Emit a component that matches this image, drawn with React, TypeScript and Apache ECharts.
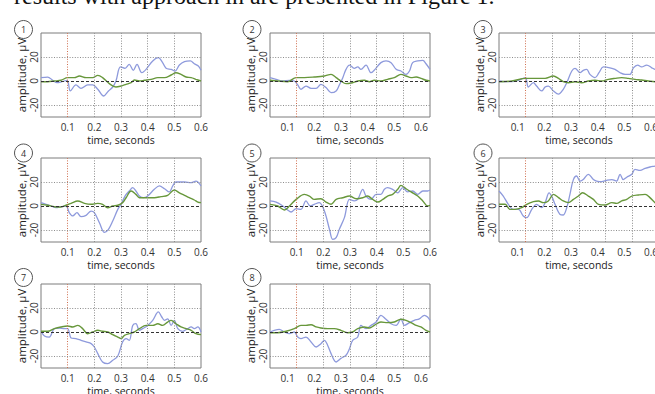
import React, { useEffect, useRef } from 'react';
import * as echarts from 'echarts';

// ---------- data ----------
const panelIds = ['1', '2', '3', '4', '5', '6', '7', '8'];
const xTickLabels = [0.1, 0.2, 0.3, 0.4, 0.5, 0.6];
const yTickLabels = [-20, 0, 20];
const verticalGrid = [0.2, 0.3, 0.4, 0.5];
const stimulusTime = 0.1;
const horizontalGrid = [-20, 20];
const zeroLevel = 0;
// offset of the printed time labels relative to the plotted trace time
const labelShift = [0, 0.034, 0.03, 0, 0, 0.03, 0, 0.034];

const blue1 = [[0, 2.8], [0.025, 3.3], [0.044, 0.6], [0.06, -1.4], [0.078, -0.6], [0.098, 0.6], [0.11, -8.3], [0.131, -3.3], [0.15, -6.1], [0.175, -3.3], [0.194, -3.3], [0.213, -6.9], [0.235, -12.5], [0.253, -8.3], [0.269, -5], [0.281, 0], [0.298, 11.7], [0.315, 10.6], [0.331, 13.9], [0.346, 8.9], [0.36, 13.9], [0.378, 6.9], [0.394, 9.7], [0.419, 16.7], [0.44, 19.4], [0.456, 15.3], [0.469, 10.6], [0.488, 9.7], [0.503, 8.3], [0.519, 13.3], [0.538, 16.1], [0.56, 16.7], [0.575, 14.4], [0.59, 12.5], [0.6, 8.9]];
const green1 = [[0, -0.6], [0.025, -0.6], [0.05, 0], [0.075, 0.6], [0.1, 2.8], [0.125, 2.8], [0.144, 4.2], [0.169, 2.8], [0.194, 2.8], [0.213, 4.7], [0.231, 2.8], [0.256, -2.2], [0.281, -5], [0.3, -4.2], [0.319, -2.8], [0.338, -1.4], [0.35, 0.8], [0.369, 0], [0.388, 0.6], [0.413, 1.4], [0.438, 2.8], [0.463, 2.8], [0.488, 5], [0.506, 6.9], [0.525, 5.5], [0.544, 3.3], [0.563, 2.8], [0.581, 1.4], [0.6, 0]];

const blue2 = [[0, 2.8], [0.023, 1.4], [0.048, 0], [0.073, 0.6], [0.091, 0], [0.104, -3.3], [0.116, -6.9], [0.135, -4.2], [0.154, -6.1], [0.173, -6.1], [0.191, -2.8], [0.21, -5.5], [0.229, -9.7], [0.248, -8.3], [0.26, -3.3], [0.273, 2.8], [0.285, 9.7], [0.298, 13.3], [0.316, 10.6], [0.329, 11.7], [0.341, 9.7], [0.36, 13.3], [0.379, 6.9], [0.394, 9.7], [0.416, 15.3], [0.435, 16.7], [0.454, 15.3], [0.473, 9.7], [0.491, 8.3], [0.51, 5.5], [0.523, 8.3], [0.535, 15.3], [0.554, 16.7], [0.573, 17.2], [0.585, 14.4], [0.6, 9.7]];
const green2 = [[0, 0.6], [0.029, 0], [0.066, -0.6], [0.098, 2.8], [0.129, 2.8], [0.166, 3.3], [0.204, 4.2], [0.229, 5.5], [0.248, 2.8], [0.266, 0], [0.285, -2.2], [0.304, -1.7], [0.329, 0], [0.354, 0.6], [0.373, -0.6], [0.391, 0.6], [0.416, 0], [0.441, 1.4], [0.466, 2.8], [0.491, 5.5], [0.51, 4.2], [0.529, 2.8], [0.548, 3.3], [0.566, 2.2], [0.585, 0.6], [0.6, 0]];

const blue3 = [[0, 0], [0.023, -0.6], [0.048, -0.6], [0.073, 0.6], [0.091, 2.2], [0.1, 2.8], [0.11, -5], [0.129, -1.4], [0.141, -4.2], [0.16, -8.3], [0.173, -5], [0.185, -4.2], [0.204, -8.3], [0.223, -11], [0.241, -6.9], [0.254, -1.4], [0.273, 8.3], [0.285, 10.6], [0.304, 6.9], [0.316, 8.9], [0.329, 9.7], [0.341, 5.5], [0.36, 2.8], [0.375, 6.9], [0.391, 11.7], [0.416, 11], [0.435, 9.7], [0.454, 6.9], [0.473, 5.5], [0.491, 5.5], [0.504, 11], [0.52, 13.3], [0.535, 11.7], [0.554, 13.3], [0.573, 11], [0.585, 9.7], [0.6, 9]];
const green3 = [[0, -0.6], [0.048, 0], [0.1, 2.2], [0.135, 2.2], [0.173, 2.2], [0.204, 4.2], [0.223, 2.2], [0.241, -0.6], [0.26, -1.4], [0.285, -0.6], [0.31, -1.4], [0.335, 0], [0.36, 0.6], [0.385, 0], [0.41, 1.4], [0.435, 2.2], [0.46, 2.8], [0.485, 2.2], [0.51, 1.4], [0.535, 0.8], [0.56, 0], [0.585, -0.6], [0.6, -0.6]];

const blue4 = [[0, 2.8], [0.019, 1.4], [0.038, 0], [0.056, -1.4], [0.075, -0.6], [0.094, 0], [0.106, -5.5], [0.119, -8.3], [0.135, -5.5], [0.15, -8.9], [0.169, -7.8], [0.188, -4.2], [0.2, -5.5], [0.219, -13.9], [0.238, -22], [0.253, -19.4], [0.269, -12.5], [0.288, -2.8], [0.3, 1.4], [0.315, 8.3], [0.331, 12.5], [0.344, 15.3], [0.356, 12.5], [0.369, 8.3], [0.385, 6.9], [0.4, 8.3], [0.425, 13.9], [0.444, 16.7], [0.463, 14.4], [0.481, 11.7], [0.494, 16.7], [0.506, 20], [0.538, 20], [0.563, 19.4], [0.581, 20.8], [0.6, 16.7]];
const green4 = [[0, 1.4], [0.025, 0.6], [0.05, -0.6], [0.075, -0.8], [0.094, 0.6], [0.113, 2.2], [0.138, 4.2], [0.163, 2.2], [0.188, 1.4], [0.213, 2.2], [0.231, 1.4], [0.25, -1.4], [0.269, 0], [0.288, 0.6], [0.306, 2.8], [0.319, 6.9], [0.338, 12.5], [0.356, 9.7], [0.369, 6.9], [0.388, 6.9], [0.406, 6.9], [0.425, 6.9], [0.45, 7.8], [0.475, 8.9], [0.5, 13.3], [0.519, 11], [0.538, 8.9], [0.556, 6.9], [0.575, 5], [0.588, 3.3], [0.6, 2.8]];

const blue5 = [[0, 4.2], [0.023, 3.3], [0.048, 0], [0.066, -3.3], [0.079, -5], [0.098, -2.2], [0.116, -2.8], [0.135, 4.2], [0.151, 0], [0.166, 1.4], [0.185, 2.8], [0.204, -4.2], [0.223, -19.4], [0.235, -27.8], [0.248, -26.4], [0.26, -19.4], [0.279, -9.7], [0.298, 5.5], [0.316, 4.2], [0.329, 5.5], [0.348, 13.9], [0.36, 8.3], [0.379, 5.5], [0.398, 9.7], [0.416, 9.7], [0.429, 13.9], [0.441, 15.3], [0.46, 13.9], [0.479, 11], [0.498, 15.3], [0.516, 11.7], [0.535, 12.5], [0.554, 9.7], [0.573, 12.5], [0.591, 12.5], [0.6, 13.3]];
const green5 = [[0, 1.4], [0.029, 0], [0.054, -3.3], [0.073, 0], [0.098, 5.5], [0.129, 9.7], [0.148, 8.3], [0.166, 5.5], [0.191, 6.1], [0.21, 3.3], [0.229, 1.4], [0.248, 5.5], [0.273, 6.9], [0.298, 8.3], [0.323, 6.1], [0.348, 6.9], [0.366, 8.3], [0.385, 5.5], [0.404, 3.3], [0.423, 5.5], [0.441, 8.3], [0.46, 9.7], [0.479, 13.9], [0.491, 17.2], [0.51, 14.4], [0.529, 11.7], [0.554, 8.3], [0.573, 4.2], [0.591, 0], [0.6, 0.6]];

const blue6 = [[0, 12.5], [0.016, 8.3], [0.035, 1.4], [0.054, -2.8], [0.073, -2.8], [0.091, -8.3], [0.104, -9.7], [0.123, -2.8], [0.141, 1.4], [0.16, -1.4], [0.173, 2.8], [0.188, 11], [0.2, 7], [0.21, 1.4], [0.229, -7], [0.241, -7.5], [0.254, -1.4], [0.266, 9.7], [0.279, 22], [0.291, 25], [0.304, 20.8], [0.316, 22], [0.335, 26.4], [0.354, 22], [0.366, 20.8], [0.385, 20.3], [0.404, 21.4], [0.423, 22], [0.441, 20.8], [0.454, 26.4], [0.466, 22], [0.479, 24], [0.498, 26.4], [0.51, 30.6], [0.529, 29.7], [0.548, 31.4], [0.566, 32.5], [0.585, 33.3], [0.6, 34]];
const green6 = [[0, 1.4], [0.023, 1.4], [0.041, -2.8], [0.06, -2.8], [0.085, -1.4], [0.104, 1.4], [0.129, 3.6], [0.148, 4.2], [0.166, 2.8], [0.185, 4.2], [0.204, 9.7], [0.223, 7], [0.241, 4.2], [0.26, 2.8], [0.279, 5.5], [0.298, 8.3], [0.313, 11], [0.335, 8.3], [0.354, 5.5], [0.373, 1.4], [0.398, 0.8], [0.423, 2.8], [0.441, 2.2], [0.46, 4.2], [0.479, 5.5], [0.498, 8.3], [0.523, 9.2], [0.548, 9.7], [0.566, 7], [0.585, 2.8], [0.6, 1]];

const blue7 = [[0, 0.6], [0.013, -3.3], [0.031, -4.2], [0.05, 2.8], [0.069, 3.3], [0.088, 2.8], [0.1, 2.8], [0.113, -5], [0.131, -5.5], [0.15, -6.9], [0.169, -8.3], [0.188, -9.7], [0.2, -12.5], [0.213, -18], [0.231, -25], [0.25, -26.4], [0.269, -23.6], [0.288, -20], [0.306, -8.3], [0.319, -5.5], [0.331, -7], [0.344, 5.5], [0.356, 7], [0.369, 1.4], [0.381, 2.8], [0.4, 5.5], [0.419, 9.7], [0.44, 16.7], [0.453, 12.5], [0.463, 9.7], [0.475, 11], [0.488, 5.5], [0.5, 9.7], [0.513, 2.8], [0.531, 0.6], [0.55, 2.8], [0.563, 4.2], [0.575, 2.8], [0.588, 4.2], [0.6, 0]];
const green7 = [[0, 0.6], [0.025, 0.6], [0.05, 2.8], [0.075, 4.2], [0.1, 5], [0.119, 4.2], [0.138, 5.5], [0.156, 2.8], [0.175, -1.4], [0.194, 0], [0.213, 1.4], [0.231, 0.6], [0.25, 0], [0.269, -2.2], [0.288, -4.2], [0.3, -5.5], [0.313, -2.8], [0.331, -1.4], [0.35, 0], [0.369, 2.8], [0.394, 5.5], [0.419, 5.5], [0.438, 6.9], [0.456, 5.5], [0.475, 8.3], [0.488, 9.7], [0.506, 6.9], [0.525, 4.2], [0.544, 2.8], [0.563, 1.4], [0.581, -1.4], [0.6, -2.2]];

const blue8 = [[0, 0], [0.016, 1.4], [0.035, 2.2], [0.054, 0], [0.073, -1.4], [0.091, 0], [0.104, -4.2], [0.116, -5.5], [0.135, -4.2], [0.154, -8.3], [0.173, -12.5], [0.191, -9.7], [0.204, -6.9], [0.216, -11], [0.229, -18], [0.248, -25], [0.266, -22], [0.285, -19.4], [0.298, -13.9], [0.31, -6.9], [0.329, -4.2], [0.341, 5.5], [0.36, 2.8], [0.379, 5.5], [0.398, 8.3], [0.416, 13.9], [0.435, 10.6], [0.454, 6.9], [0.473, 5.5], [0.491, 11], [0.504, 5.5], [0.523, 7.8], [0.541, 9.7], [0.56, 11], [0.579, 13.9], [0.591, 12.5], [0.6, 9.7]];
const green8 = [[0, -0.6], [0.029, -0.6], [0.06, 0.6], [0.091, 2.8], [0.116, 5.5], [0.135, 5.5], [0.154, 6.1], [0.173, 4.2], [0.191, 3.3], [0.216, 2.8], [0.241, 2.8], [0.266, 1.4], [0.291, -0.6], [0.31, 0], [0.329, 2.8], [0.354, 4.2], [0.373, 3.3], [0.391, 5.5], [0.416, 8.3], [0.441, 7.8], [0.466, 8.3], [0.491, 10.6], [0.51, 9.7], [0.529, 7.8], [0.548, 5.5], [0.566, 4.2], [0.585, 1.4], [0.6, 0]];

const blueSeries = [blue1, blue2, blue3, blue4, blue5, blue6, blue7, blue8];
const greenSeries = [green1, green2, green3, green4, green5, green6, green7, green8];

// ---------- layout / style ----------
const colLeft = [41, 270, 499];
const rowTop = [33, 158, 284];
const boxW = 160;
const boxH = 84;
const circleX = [23.5, 252, 483];
const circleY = [29.5, 153, 277.5];
const FONT = '"Open Sans", "Noto Sans", sans-serif';
const BLUE = '#8e9adc';
const GREEN = '#67973b';
const GRIDC = '#8c8c8c';
const TXT = '#333';

export default function App() {
  const ref = useRef<HTMLDivElement>(null);
  useEffect(() => {
    const chart = echarts.init(ref.current!, null, { renderer: 'svg' });
    const grids: any[] = [];
    const xAxes: any[] = [];
    const yAxes: any[] = [];
    const series: any[] = [];
    const graphics: any[] = [];

    panelIds.forEach((id, i) => {
      const c = i % 3;
      const r = Math.floor(i / 3);
      grids.push({
        left: colLeft[c], top: rowTop[r], width: boxW, height: boxH,
        show: true, borderColor: '#7d7d7d', borderWidth: 1, backgroundColor: '#fff',
        containLabel: false, outerBoundsMode: 'none',
      });
      // data axis
      xAxes.push({
        type: 'value', gridIndex: i, min: 0, max: 0.6,
        axisLine: { show: false }, axisTick: { show: false }, axisLabel: { show: false }, splitLine: { show: false },
      });
      // label axis
      xAxes.push({
        type: 'value', gridIndex: i, position: 'bottom', min: labelShift[i], max: labelShift[i] + 0.6,
        axisLine: { show: false }, axisTick: { show: false }, splitLine: { show: false },
        axisLabel: {
          customValues: xTickLabels, formatter: (v: number) => v.toFixed(1),
          fontFamily: FONT, fontSize: 10, lineHeight: 10, color: TXT, margin: 5,
        },
        name: 'time, seconds', nameLocation: 'middle', nameGap: 17,
        nameTextStyle: { fontFamily: FONT, fontSize: 10.5, lineHeight: 11, color: '#222' },
      });
      yAxes.push({
        type: 'value', gridIndex: i, min: -30, max: 40,
        axisLine: { show: false }, axisTick: { show: false }, splitLine: { show: false },
        axisLabel: {
          customValues: yTickLabels, rotate: 90, fontFamily: FONT, fontSize: 10, lineHeight: 10, color: TXT, margin: 2,
        },
        name: 'amplitude, μV', nameLocation: 'middle', nameGap: 14,
        nameTextStyle: { fontFamily: FONT, fontSize: 11.5, lineHeight: 12, color: '#222' },
      });
      const gray = { color: GRIDC, type: [1, 1.6], width: 1 };
      series.push({
        type: 'line', xAxisIndex: 2 * i, yAxisIndex: i, data: [], silent: true, z: 1,
        markLine: {
          symbol: 'none', silent: true, animation: false, label: { show: false },
          data: [
            ...verticalGrid.map((x) => ({ xAxis: x, lineStyle: gray })),
            { xAxis: stimulusTime, lineStyle: { color: '#cf6e4e', type: [1, 1.6], width: 1 } },
            ...horizontalGrid.map((y) => ({ yAxis: y, lineStyle: gray })),
            { yAxis: zeroLevel, lineStyle: { color: '#333', type: [3, 2], width: 1 } },
          ],
        },
      });
      series.push({
        type: 'line', xAxisIndex: 2 * i, yAxisIndex: i, data: blueSeries[i], showSymbol: false, symbol: 'none',
        smooth: 0.35, lineStyle: { color: BLUE, width: 1.3 }, z: 3, silent: true,
      });
      series.push({
        type: 'line', xAxisIndex: 2 * i, yAxisIndex: i, data: greenSeries[i], showSymbol: false, symbol: 'none',
        smooth: 0.35, lineStyle: { color: GREEN, width: 1.4 }, z: 4, silent: true,
      });
      graphics.push({
        type: 'circle', shape: { cx: circleX[c], cy: circleY[r], r: 9 },
        style: { fill: '#fff', stroke: '#555', lineWidth: 1 }, z: 10,
      });
      graphics.push({
        type: 'text', x: circleX[c], y: circleY[r],
        style: { text: id, fontFamily: FONT, fontSize: 9, fill: '#333', align: 'center', verticalAlign: 'middle' }, z: 11,
      });
    });

    graphics.push({
      type: 'text', x: 14, y: -4,
      style: {
        text: 'results with approach in are presented in Figure 1.',
        fontFamily: '"Liberation Serif", "Times New Roman", serif', fontSize: 24, fill: '#111',
        align: 'left', verticalAlign: 'middle',
      },
    });

    chart.setOption({
      animation: false,
      backgroundColor: '#fff',
      grid: grids,
      xAxis: xAxes,
      yAxis: yAxes,
      series,
      graphic: graphics,
    });
    return () => chart.dispose();
  }, []);
  return (
    <div
      ref={ref}
      style={{ position: 'fixed', left: 0, top: 0, width: 655, height: 394, background: '#fff' }}
    />
  );
}
